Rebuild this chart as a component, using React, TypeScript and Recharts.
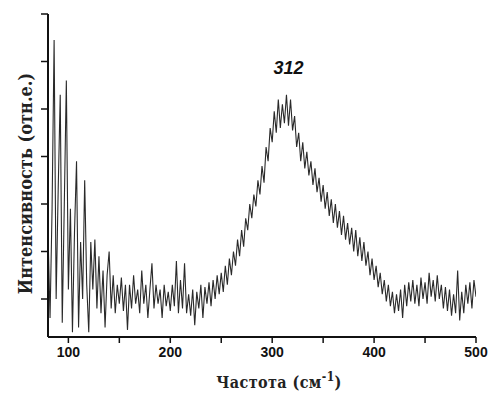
import React from 'react';
import { LineChart, Line, XAxis, YAxis, ReferenceDot, Label } from 'recharts';

// Raman-like spectrum: frequency grid starts at 80 cm^-1, step 2 cm^-1
const freqStart = 80;
const freqStep = 2;
const intensity: number[] = [
  2.4, 0.6, 2.9, 6.45, 1.0, 3.3, 5.3, 0.5, 3.0, 5.6,
  1.2, 2.9, 0.3, 2.4, 3.9, 0.4, 2.2, 1.0, 3.5, 1.3,
  0.3, 2.2, 1.2, 2.25, 0.8, 1.9, 0.7, 1.6, 0.4, 1.5,
  2.0, 0.8, 1.5, 0.7, 1.3, 0.9, 1.45, 0.75, 1.3, 0.35,
  1.3, 0.8, 1.5, 0.9, 1.2, 0.7, 1.6, 0.9, 1.3, 0.6,
  1.2, 1.75, 0.8, 1.3, 0.9, 1.2, 0.6, 1.3, 0.85, 1.15,
  0.75, 1.3, 0.85, 1.8, 0.7, 1.4, 0.8, 1.75, 0.7, 1.1,
  0.65, 1.2, 0.45, 1.15, 0.8, 1.3, 0.6, 1.25, 0.9, 1.35,
  0.85, 1.4, 1.0, 1.5, 1.1, 1.55, 1.15, 1.7, 1.3, 1.85,
  1.5, 2.0, 1.7, 2.25, 1.9, 2.45, 2.1, 2.7, 2.45, 3.0,
  2.7, 3.2, 2.95, 3.5, 3.2, 3.8, 3.45, 4.2, 3.9, 4.6,
  4.3, 4.95, 4.5, 5.2, 4.6, 5.1, 4.7, 5.3, 4.65, 5.2,
  4.55, 4.85, 4.2, 4.5, 3.9, 4.3, 3.75, 4.1, 3.6, 3.9,
  3.4, 3.75, 3.25, 3.55, 3.05, 3.4, 2.9, 3.25, 2.75, 3.1,
  2.6, 3.0, 2.5, 2.85, 2.35, 2.75, 2.25, 2.6, 2.15, 2.5,
  2.0, 2.45, 1.9, 2.3, 1.8, 2.2, 1.7, 2.0, 1.5, 1.85,
  1.4, 1.7, 1.25, 1.55, 1.1, 1.4, 0.95, 1.3, 0.85, 1.15,
  0.7, 1.1, 0.75, 1.2, 0.6, 1.3, 0.85, 1.35, 0.95, 1.4,
  0.9, 1.3, 0.85, 1.45, 1.0, 1.35, 0.9, 1.55, 1.05, 1.4,
  0.95, 1.5, 1.0, 1.3, 0.8, 1.25, 0.75, 1.2, 0.65, 1.1,
  0.7, 1.6, 0.55, 1.15, 0.7, 1.3, 0.9, 1.35, 0.8, 1.4,
  1.05,
];

const xTicks = [100, 150, 200, 250, 300, 350, 400, 450, 500];
const xLabelledTicks = [100, 200, 300, 400, 500];
const yTicks = [1, 2, 3, 4, 5, 6, 7];
const xDomain = [80, 500];
const yDomain = [0.2, 7];
const peakLabel = '312';
const peakLabelPos = { f: 316, v: 5.87 };
const xTitle = 'Частота (см';
const xTitleSup = '-1';
const yTitle = 'Интенсивность (отн.е.)';

const data = intensity.map((v, i) => ({ f: freqStart + i * freqStep, v }));

const serif = '"DejaVu Serif Condensed", "DejaVu Serif", "Liberation Serif", serif';
const sans = '"Liberation Sans", Arial, sans-serif';

const XTick = (props: any) => {
  const { x, y, payload } = props;
  if (!xLabelledTicks.includes(payload.value)) return <g />;
  return (
    <text x={x} y={y} dy={12} textAnchor="middle" fontFamily={sans} fontWeight="bold" fontSize={14} fill="#111">
      {payload.value}
    </text>
  );
};

const XTitle = (props: any) => {
  const vb = props.viewBox || { x: 0, y: 0, width: 0, height: 0 };
  const cx = vb.x + vb.width / 2 + 17;
  const by = vb.y + 51;
  return (
    <text x={cx} y={by} textAnchor="middle" fontFamily={serif} fontWeight="bold" fontSize={16} fill="#222" letterSpacing={0.4}>
      {xTitle}
      <tspan dy={-7} fontSize={12}>{xTitleSup}</tspan>
      <tspan dy={7}>)</tspan>
    </text>
  );
};

const YTitle = (props: any) => {
  const vb = props.viewBox || { x: 0, y: 0, width: 0, height: 0 };
  const bx = vb.x + 32;
  const cy = vb.y + vb.height / 2 + 8;
  return (
    <text
      x={bx}
      y={cy}
      transform={`rotate(-90 ${bx} ${cy})`}
      textAnchor="middle"
      fontFamily={serif}
      fontWeight="bold"
      fontSize={18}
      fill="#222"
    >
      {yTitle}
    </text>
  );
};

export default function App() {
  return (
    <div style={{ position: 'absolute', left: 0, top: 0, width: 491, height: 394, background: '#fff' }}>
      <LineChart width={491} height={394} data={data} margin={{ top: 14, right: 15, left: 0, bottom: 0 }}>
        <XAxis
          dataKey="f"
          type="number"
          domain={xDomain}
          ticks={xTicks}
          allowDataOverflow
          height={57}
          axisLine={{ stroke: '#111', strokeWidth: 2 }}
          tickLine={{ stroke: '#111', strokeWidth: 1.5 }}
          tickSize={6}
          tick={XTick}
          interval={0}
        >
          <Label content={XTitle} />
        </XAxis>
        <YAxis
          type="number"
          domain={yDomain}
          ticks={yTicks}
          allowDataOverflow
          width={48}
          axisLine={{ stroke: '#111', strokeWidth: 2 }}
          tickLine={{ stroke: '#111', strokeWidth: 1.5 }}
          tickSize={7}
          tick={() => <g />}
          interval={0}
        >
          <Label content={YTitle} />
        </YAxis>
        <Line
          type="linear"
          dataKey="v"
          stroke="#2a2a2a"
          strokeWidth={1.1}
          dot={false}
          isAnimationActive={false}
        />
        <ReferenceDot
          x={peakLabelPos.f}
          y={peakLabelPos.v}
          r={0}
          fill="none"
          stroke="none"
          label={{
            value: peakLabel,
            position: 'center',
            fontFamily: sans,
            fontWeight: 'bold',
            fontStyle: 'italic',
            fontSize: 18,
            fill: '#111',
          }}
        />
      </LineChart>
    </div>
  );
}
